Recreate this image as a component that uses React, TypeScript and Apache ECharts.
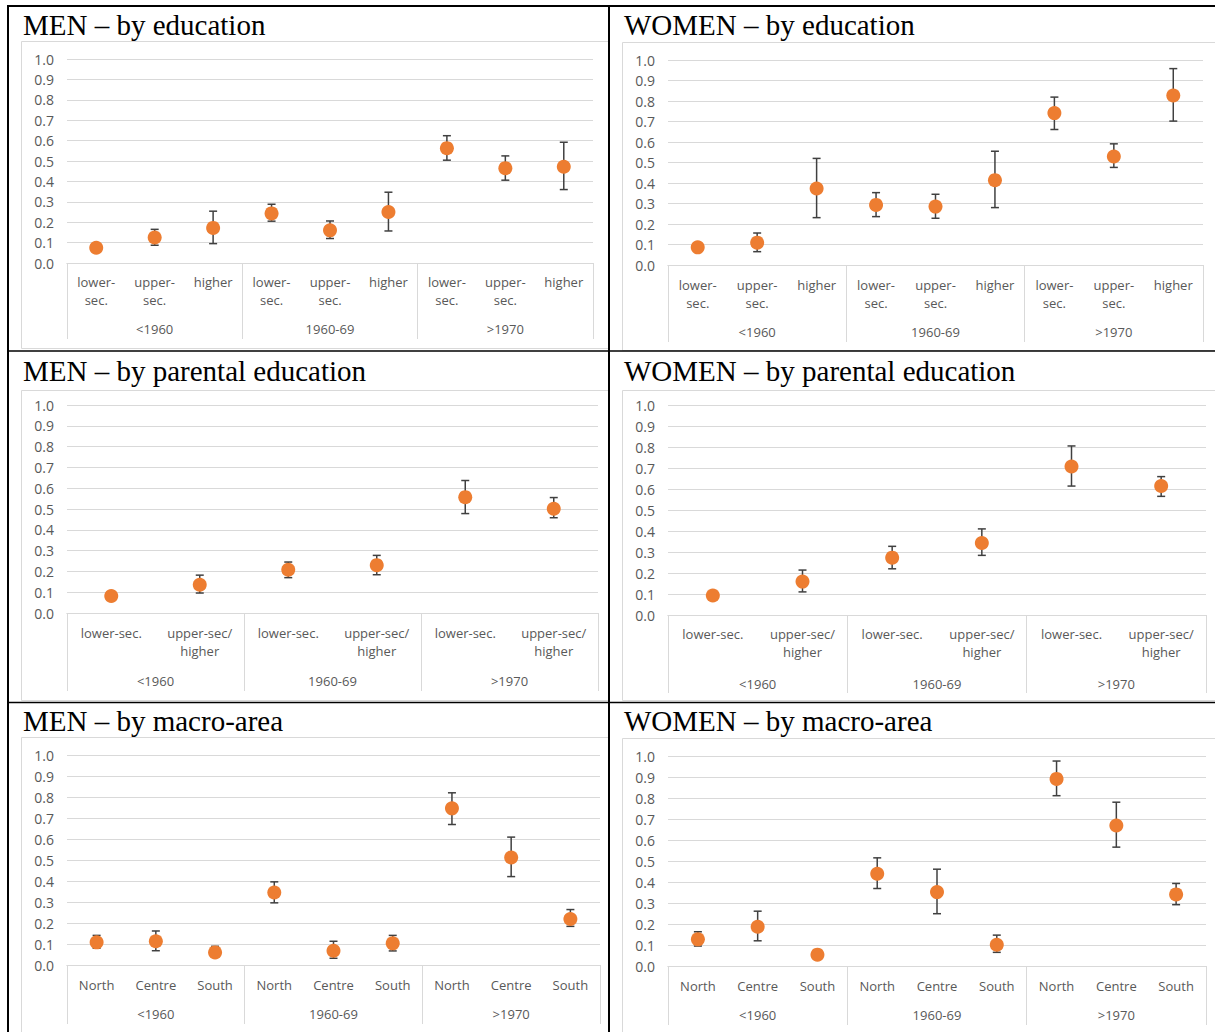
import React, { useEffect, useRef } from 'react';
import * as echarts from 'echarts';

// ---------- categories ----------
const groups = ['<1960', '1960-69', '>1970'];
const eduLevels = ['lower-\nsec.', 'upper-\nsec.', 'higher'];
const parLevels = ['lower-sec.', 'upper-sec/\nhigher'];
const areaLevels = ['North', 'Centre', 'South'];
const yTicks = [0, 0.1, 0.2, 0.3, 0.4, 0.5, 0.6, 0.7, 0.8, 0.9, 1.0];

// ---------- MEN by education ----------
const menEduMean = [0.075, 0.125, 0.172, 0.243, 0.160, 0.250, 0.563, 0.465, 0.472];
const menEduLow = [0.068, 0.087, 0.095, 0.205, 0.120, 0.157, 0.504, 0.406, 0.360];
const menEduHigh = [0.082, 0.165, 0.254, 0.288, 0.206, 0.347, 0.624, 0.525, 0.592];

// ---------- WOMEN by education ----------
const womEduMean = [0.086, 0.109, 0.373, 0.293, 0.285, 0.414, 0.741, 0.529, 0.827];
const womEduLow = [0.079, 0.065, 0.231, 0.236, 0.228, 0.280, 0.661, 0.476, 0.702];
const womEduHigh = [0.093, 0.156, 0.520, 0.353, 0.345, 0.555, 0.819, 0.591, 0.958];

// ---------- MEN by parental education ----------
const menParMean = [0.082, 0.136, 0.208, 0.230, 0.557, 0.501];
const menParLow = [0.075, 0.096, 0.170, 0.184, 0.478, 0.458];
const menParHigh = [0.089, 0.182, 0.245, 0.277, 0.637, 0.555];

// ---------- WOMEN by parental education ----------
const womParMean = [0.093, 0.159, 0.273, 0.343, 0.707, 0.614];
const womParLow = [0.086, 0.110, 0.220, 0.284, 0.614, 0.565];
const womParHigh = [0.100, 0.214, 0.327, 0.410, 0.805, 0.659];

// ---------- MEN by macro-area ----------
const menAreaMean = [0.108, 0.113, 0.060, 0.345, 0.068, 0.103, 0.746, 0.512, 0.219];
const menAreaLow = [0.080, 0.068, 0.042, 0.296, 0.032, 0.067, 0.669, 0.421, 0.184];
const menAreaHigh = [0.141, 0.162, 0.089, 0.396, 0.113, 0.141, 0.820, 0.609, 0.264];

// ---------- WOMEN by macro-area ----------
const womAreaMean = [0.127, 0.187, 0.054, 0.439, 0.352, 0.101, 0.891, 0.669, 0.341];
const womAreaLow = [0.095, 0.120, 0.047, 0.369, 0.249, 0.065, 0.811, 0.566, 0.292];
const womAreaHigh = [0.163, 0.261, 0.061, 0.515, 0.461, 0.147, 0.976, 0.780, 0.393];

const titles = [
  'MEN \u2013 by education',
  'WOMEN \u2013 by education',
  'MEN \u2013 by parental education',
  'WOMEN \u2013 by parental education',
  'MEN \u2013 by macro-area',
  'WOMEN \u2013 by macro-area',
];

const expand = (levels: string[]) => groups.flatMap(() => levels);

const panels = [
  { sub: expand(eduLevels), mean: menEduMean, low: menEduLow, high: menEduHigh },
  { sub: expand(eduLevels), mean: womEduMean, low: womEduLow, high: womEduHigh },
  { sub: expand(parLevels), mean: menParMean, low: menParLow, high: menParHigh },
  { sub: expand(parLevels), mean: womParMean, low: womParLow, high: womParHigh },
  { sub: expand(areaLevels), mean: menAreaMean, low: menAreaLow, high: menAreaHigh },
  { sub: expand(areaLevels), mean: womAreaMean, low: womAreaLow, high: womAreaHigh },
];

// ---------- layout (pixels) ----------
const layouts = [
  { l: 67, r: 593, t: 59, b: 263, tick: 76, subM: 10, grpM: 57, frame: [21, 41, 608, 348], title: [23, 25] },
  { l: 668, r: 1203, t: 60, b: 265, tick: 77, subM: 11, grpM: 58, frame: [622, 42, 1216, 350], title: [624, 25] },
  { l: 67, r: 598, t: 405, b: 613, tick: 78, subM: 11, grpM: 59, frame: [21, 390, 608, 700], title: [23, 371] },
  { l: 668, r: 1206, t: 405, b: 615, tick: 78, subM: 10, grpM: 60, frame: [622, 390, 1216, 700], title: [624, 371] },
  { l: 67, r: 600, t: 755, b: 965, tick: 59, subM: 11, grpM: 40, frame: [21, 737, 608, 1040], title: [23, 721] },
  { l: 668, r: 1206, t: 756, b: 966, tick: 59, subM: 11, grpM: 40, frame: [622, 738, 1216, 1040], title: [624, 721] },
];

const GRAY = '#D9D9D9';
const LABEL = '#595959';
const ORANGE = '#ED7D31';
const FONT = '"Open Sans", "Noto Sans", sans-serif';

export default function App() {
  const ref = useRef<HTMLDivElement>(null);

  useEffect(() => {
    if (!ref.current) return;
    const chart = echarts.init(ref.current, undefined, { renderer: 'svg' });

    const grid: any[] = [];
    const xAxis: any[] = [];
    const yAxis: any[] = [];
    const series: any[] = [];
    const title: any[] = [];
    const graphic: any[] = [];

    panels.forEach((p, k) => {
      const L = layouts[k];
      grid.push({ left: L.l, top: L.t, width: L.r - L.l, height: L.b - L.t, containLabel: false });
      xAxis.push({
        type: 'category',
        gridIndex: k,
        position: 'bottom',
        data: p.sub,
        boundaryGap: true,
        axisLine: { show: true, lineStyle: { color: GRAY, width: 1 } },
        axisTick: { show: false },
        splitLine: { show: false },
        axisLabel: {
          interval: 0,
          color: LABEL,
          fontFamily: FONT,
          fontSize: 13,
          lineHeight: 18,
          margin: L.subM,
        },
      });
      xAxis.push({
        type: 'category',
        gridIndex: k,
        position: 'bottom',
        data: groups,
        boundaryGap: true,
        axisLine: { show: true, lineStyle: { color: GRAY, width: 1 } },
        axisTick: { show: true, length: L.tick, lineStyle: { color: GRAY, width: 1 } },
        splitLine: { show: false },
        axisLabel: {
          interval: 0,
          color: LABEL,
          fontFamily: FONT,
          fontSize: 13,
          lineHeight: 18,
          margin: L.grpM,
        },
      });
      yAxis.push({
        type: 'value',
        gridIndex: k,
        min: yTicks[0],
        max: yTicks[yTicks.length - 1],
        interval: 0.1,
        axisLine: { show: false },
        axisTick: { show: false },
        splitLine: { show: true, lineStyle: { color: GRAY, width: 1 } },
        axisLabel: {
          color: LABEL,
          fontFamily: FONT,
          fontSize: 14,
          margin: 13,
          formatter: (v: number) => v.toFixed(1),
        },
      });
      series.push({
        type: 'custom',
        xAxisIndex: 2 * k,
        yAxisIndex: k,
        z: 2,
        encode: { x: 0, y: [1, 2] },
        data: p.mean.map((_, i) => [i, p.low[i], p.high[i]]),
        renderItem: (params: any, api: any) => {
          const x = api.value(0);
          const a = api.coord([x, api.value(2)]);
          const b = api.coord([x, api.value(1)]);
          const w = 4;
          const style = { stroke: '#404040', lineWidth: 1.5 };
          return {
            type: 'group',
            children: [
              { type: 'line', shape: { x1: a[0], y1: a[1], x2: b[0], y2: b[1] }, style },
              { type: 'line', shape: { x1: a[0] - w, y1: a[1], x2: a[0] + w, y2: a[1] }, style },
              { type: 'line', shape: { x1: b[0] - w, y1: b[1], x2: b[0] + w, y2: b[1] }, style },
            ],
          };
        },
      });
      series.push({
        type: 'scatter',
        xAxisIndex: 2 * k,
        yAxisIndex: k,
        z: 3,
        symbol: 'circle',
        symbolSize: 14,
        itemStyle: { color: ORANGE, opacity: 1 },
        data: p.mean.map((v, i) => [i, v]),
      });
      title.push({
        text: titles[k],
        left: L.title[0],
        top: L.title[1] - 15,
        padding: 0,
        textStyle: {
          fontFamily: '"Liberation Serif", "Times New Roman", serif',
          fontSize: 29,
          fontWeight: 'normal',
          color: '#000',
          lineHeight: 30,
        },
      });
      const f = L.frame;
      graphic.push({
        type: 'rect',
        silent: true,
        z: -1,
        shape: { x: f[0] + 0.5, y: f[1] + 0.5, width: f[2] - f[0], height: f[3] - f[1] },
        style: { fill: 'none', stroke: GRAY, lineWidth: 1 },
      });
    });

    // table borders
    const border = (x1: number, y1: number, x2: number, y2: number, w: number) => ({
      type: 'line',
      silent: true,
      z: 10,
      shape: { x1, y1, x2, y2 },
      style: { stroke: '#000', lineWidth: w },
    });
    graphic.push(border(7, 6, 1215, 6, 2));
    graphic.push(border(8, 5, 8, 1032, 2));
    graphic.push(border(609, 5, 609, 1032, 2));
    graphic.push(border(8, 351, 1215, 351, 1.5));
    graphic.push(border(8, 702.5, 1215, 702.5, 1.5));

    chart.setOption({
      animation: false,
      backgroundColor: '#fff',
      title,
      grid,
      xAxis,
      yAxis,
      series,
      graphic,
    });

    return () => chart.dispose();
  }, []);

  return (
    <div
      ref={ref}
      style={{ position: 'absolute', left: 0, top: 0, width: 1215, height: 1032 }}
    />
  );
}
